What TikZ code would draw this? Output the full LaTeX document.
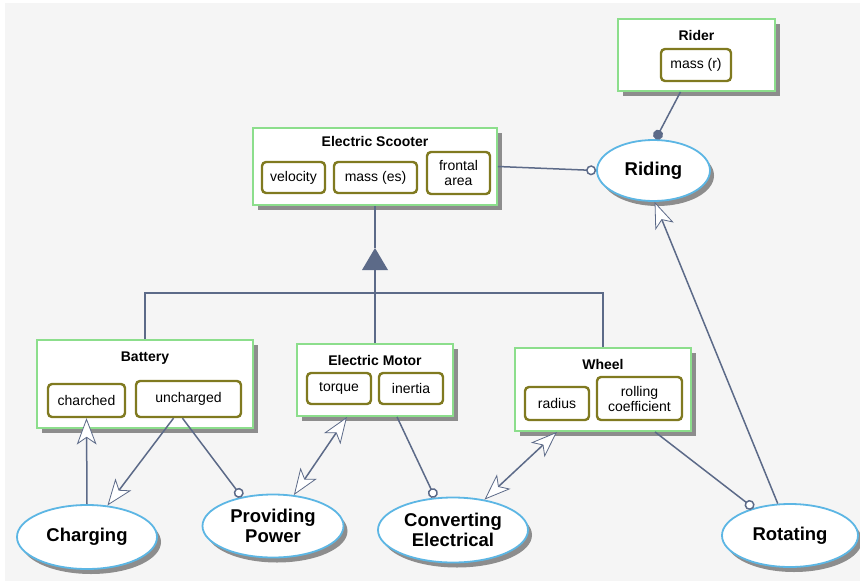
\documentclass[tikz,border=0pt]{standalone}
\usepackage{fontspec}
\setmainfont{Liberation Sans}
\usetikzlibrary{arrows.meta, shapes.geometric, shadows}
\definecolor{boxgreen}{RGB}{140,222,140}
\definecolor{attrolive}{RGB}{128,122,32}
\definecolor{procblue}{RGB}{92,182,228}
\definecolor{linkgray}{RGB}{92,106,136}
\definecolor{bggray}{RGB}{245,245,245}

\begin{document}
\begin{tikzpicture}[x=1pt, y=-1pt, >=Stealth,
    object/.style={draw=boxgreen, line width=1.8pt, fill=white, inner sep=0pt,
        drop shadow={shadow xshift=5pt, shadow yshift=-5pt, fill=black!55, opacity=0.8}},
    objtitle/.style={font=\bfseries\fontsize{14}{15}\selectfont},
    attr/.style={draw=attrolive, line width=2.4pt, rounded corners=4pt, fill=white, inner sep=0pt,
        align=center, font=\fontsize{14}{15}\selectfont},
    process/.style={ellipse, draw=procblue, line width=1.8pt, fill=white, inner sep=0pt,
        align=center, font=\bfseries\fontsize{18.5}{20}\selectfont,
        drop shadow={shadow xshift=4pt, shadow yshift=-5pt, fill=black!55, opacity=0.8}},
    link/.style={draw=linkgray, line width=1.5pt},
    effect/.style={link, -{Circle[open, fill=white, length=10pt]}},
    agent/.style={link, -{Circle[fill=linkgray, length=10pt]}},
    headtip/.tip={Stealth[open, fill=white, scale=2.7, inset=2.5pt, line width=0.8pt]},
    result/.style={link, -headtip},
    invoke/.style={link, headtip-headtip}]

    % Canvas
    \useasboundingbox (0,0) rectangle (860,581);
    \fill[bggray] (5,3) rectangle (860,581);

    % Objects
    \node[object, minimum width=157pt, minimum height=72pt] (rider) at (696.5,55) {};
    \node[objtitle] (ridertitle) at (696.5,35) {Rider};
    \node[attr, minimum width=70pt, minimum height=32pt] (massr) at (696,65) {mass (r)};

    \node[object, minimum width=244pt, minimum height=77pt] (scooter) at (375,166.5) {};
    \node[objtitle] (scootertitle) at (375,141) {Electric Scooter};
    \node[attr, minimum width=63pt, minimum height=31pt] (velocity) at (293.5,177.5) {velocity};
    \node[attr, minimum width=83pt, minimum height=31pt] (masses) at (375.5,177.5) {mass (es)};
    \node[attr, minimum width=63pt, minimum height=42pt] (frontal) at (458.5,173) {frontal\\area};

    \node[object, minimum width=216pt, minimum height=88pt] (battery) at (145,384) {};
    \node[objtitle] (batterytitle) at (145,358) {Battery};
    \node[attr, minimum width=77pt, minimum height=33pt] (charched) at (86.5,400.5) {charched};
    \node[attr, minimum width=105pt, minimum height=36pt] (uncharged) at (188.5,399) {uncharged};

    \node[object, minimum width=156pt, minimum height=72pt] (motor) at (375,380) {};
    \node[objtitle] (motortitle) at (375,360) {Electric Motor};
    \node[attr, minimum width=64pt, minimum height=31pt] (torque) at (339,388.5) {torque};
    \node[attr, minimum width=64pt, minimum height=31pt] (inertia) at (411,388.5) {inertia};

    \node[object, minimum width=176pt, minimum height=83pt] (wheel) at (603,389.5) {};
    \node[objtitle] (wheeltitle) at (603,364) {Wheel};
    \node[attr, minimum width=64pt, minimum height=33pt] (radius) at (557,403.5) {radius};
    \node[attr, minimum width=85pt, minimum height=43pt] (rolling) at (639.5,398.5) {rolling\\coefficient};

    % Processes
    \node[process, minimum width=113pt, minimum height=61pt] (riding) at (653.5,170.5) {Riding};
    \node[process, minimum width=140pt, minimum height=64pt] (charging) at (87,537) {Charging};
    \node[process, minimum width=141pt, minimum height=63pt] (providing) at (273,526) {Providing\\Power};
    \node[process, minimum width=150pt, minimum height=65pt] (converting) at (453,530) {Converting\\Electrical};
    \node[process, minimum width=136pt, minimum height=63pt] (rotating) at (790,535.5) {Rotating};

    % Aggregation of the scooter parts
    \coordinate (apex) at (375,248);
    \coordinate (genbase) at (375,270);
    \coordinate (bar) at (375,293);
    \fill[linkgray] (apex) -- ++(13,22) -- ++(-26,0) -- cycle;
    \draw[link] (scooter.south) -- (apex);
    \draw[link] (genbase) -- (motor.north);
    \draw[link] (battery.north) |- (bar) -| (wheel.north);

    % Links
    \draw[effect] (scooter.east) -- (riding.west);
    \draw[agent] ([xshift=-16pt]rider.south) -- (riding.86);
    \draw[result] (charging.north) -- (charched.south);
    \draw[result] ([xshift=-15pt]uncharged.south) -- (charging.57);
    \draw[effect] ([xshift=-6pt]uncharged.south) -- (providing.137);
    \draw[invoke] ([xshift=-28pt]motor.south) -- (providing.56);
    \draw[effect] ([xshift=22pt]motor.south) -- (converting.119);
    \draw[invoke] ([xshift=-46pt]wheel.south) -- (converting.44);
    \draw[effect] ([xshift=52pt]wheel.south) -- (rotating.143);
    \draw[result] (rotating.111) -- (riding.-88);
\end{tikzpicture}
\end{document}
